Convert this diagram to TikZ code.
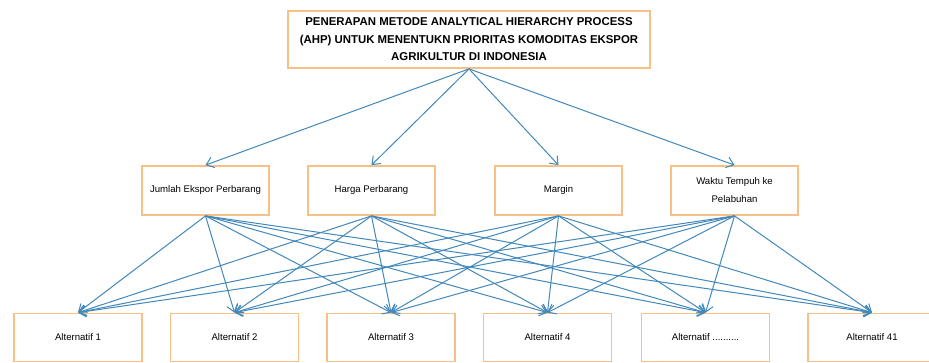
\documentclass[tikz,border=0pt]{standalone}
\usepackage{fontspec}
\setmainfont{Liberation Sans}
\usetikzlibrary{arrows.meta}
\definecolor{boxor}{RGB}{247,192,135}
\definecolor{lnblue}{RGB}{66,136,186}
\tikzset{
  box/.style={draw=boxor, line width=1.8pt, fill=white, rectangle, inner sep=0pt, align=center},
  topbox/.style={box, minimum width=362pt, minimum height=57pt, font=\fontsize{11.4}{17.5}\selectfont\bfseries},
  critbox/.style={box, minimum width=127pt, minimum height=49pt, font=\fontsize{9.6}{18}\selectfont},
  altbox/.style={box, minimum width=128pt, minimum height=48pt, font=\fontsize{9.6}{12}\selectfont},
  link/.style={draw=lnblue, line width=1pt, -{Straight Barb[length=7pt,width=11pt,line width=1pt]}}
}
\begin{document}
\begin{tikzpicture}[x=1pt,y=-1pt]
\useasboundingbox (0,0) rectangle (929,363);
\fill[white] (0,0) rectangle (929,363);
\node[topbox] (top) at (469,39.5) {PENERAPAN METODE ANALYTICAL HIERARCHY PROCESS\\(AHP) UNTUK MENENTUKN PRIORITAS KOMODITAS EKSPOR\\AGRIKULTUR DI INDONESIA};
\node[critbox] (c1) at (205.5,190.5) {Jumlah Ekspor Perbarang};
\node[critbox] (c2) at (371.5,190.5) {Harga Perbarang};
\node[critbox] (c3) at (558.5,190.5) {Margin};
\node[critbox] (c4) at (734.5,190.5) {Waktu Tempuh ke\\Pelabuhan};
\node[altbox] (a1) at (78,337.5) {Alternatif 1};
\node[altbox] (a2) at (234.5,337.5) {Alternatif 2};
\node[altbox] (a3) at (391,337.5) {Alternatif 3};
\node[altbox] (a4) at (547.5,337.5) {Alternatif 4};
\node[altbox] (a5) at (705.5,337.5) {Alternatif ..........};
\node[altbox] (a6) at (872,337.5) {Alternatif 41};
\foreach \c in {c1,c2,c3,c4}{
  \draw[link] (top.south) -- (\c.north);
  \foreach \a in {a1,a2,a3,a4,a5,a6}{
    \draw[link] (\c.south) -- (\a.north);
  }
}
\end{tikzpicture}
\end{document}
